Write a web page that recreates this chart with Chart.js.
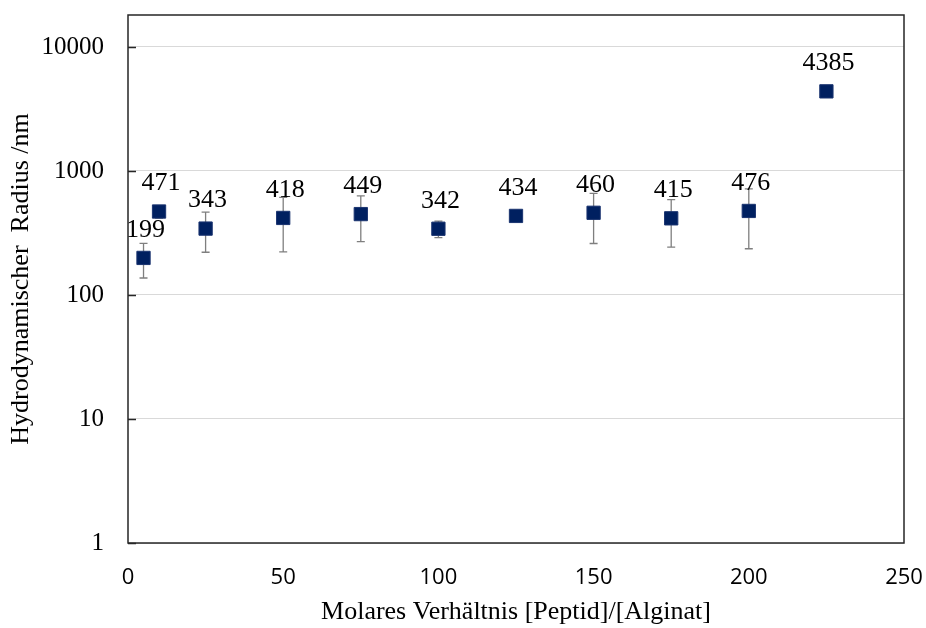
<!DOCTYPE html>
<html>
<head>
<meta charset="utf-8">
<script src="https://cdn.jsdelivr.net/npm/chart.js@4.4.1/dist/chart.umd.min.js"></script>
<style>
  html, body { margin: 0; padding: 0; background: #fff; }
  #wrap { width: 926px; height: 628px; }
</style>
</head>
<body>
<div id="wrap"><canvas id="radius"></canvas></div>
<script>
// molar ratio peptide/alginate, hydrodynamic radius (nm) and its std deviation
var ratios = [5, 10, 25, 50, 75, 100, 125, 150, 175, 200, 225]
var radii = [199, 471, 343, 418, 449, 342, 434, 460, 415, 476, 4385]
var errors = [62, 55, 122, 195, 180, 52, 30, 200, 172, 240, 0]
var yTicks = [1, 10, 100, 1000, 10000]
var xTicks = [0, 50, 100, 150, 200, 250]

var serif = '"Liberation Serif", "Times New Roman", serif'
var sans = '"Open Sans", "Liberation Sans", sans-serif'

var points = ratios.map(function (r, i) { return { x: r, y: radii[i] } })

// vertical error bars with caps, drawn under the markers
var errorBars = {
    id: 'errorBars',
    beforeDatasetsDraw: function (chart) {
        var ctx = chart.ctx, y = chart.scales.y
        var meta = chart.getDatasetMeta(0)
        ctx.save()
        ctx.strokeStyle = '#7f7f7f'
        ctx.lineWidth = 1.3
        meta.data.forEach(function (pt, i) {
            if (!errors[i]) return
            var top = y.getPixelForValue(radii[i] + errors[i])
            var bot = y.getPixelForValue(radii[i] - errors[i])
            ctx.beginPath()
            ctx.moveTo(pt.x, top); ctx.lineTo(pt.x, bot)
            ctx.moveTo(pt.x - 4, top); ctx.lineTo(pt.x + 4, top)
            ctx.moveTo(pt.x - 4, bot); ctx.lineTo(pt.x + 4, bot)
            ctx.stroke()
        })
        ctx.restore()
    }
}

// value labels above each marker, plus frame and inner ticks of the y axis
var decorations = {
    id: 'decorations',
    afterDatasetsDraw: function (chart) {
        var ctx = chart.ctx, a = chart.chartArea, y = chart.scales.y
        var meta = chart.getDatasetMeta(0)
        ctx.save()
        ctx.fillStyle = '#000'
        ctx.font = '26px ' + serif
        ctx.textAlign = 'center'
        ctx.textBaseline = 'middle'
        meta.data.forEach(function (pt, i) {
            ctx.fillText(String(radii[i]), pt.x + 2, pt.y - 28)
        })
        ctx.strokeStyle = '#262626'
        ctx.lineWidth = 1.5
        ctx.strokeRect(a.left, a.top, a.right - a.left, a.bottom - a.top)
        ctx.beginPath()
        yTicks.forEach(function (v) {
            var py = Math.round(y.getPixelForValue(v)) + 0.5
            ctx.moveTo(a.left, py); ctx.lineTo(a.left + 8, py)
        })
        ctx.stroke()
        ctx.restore()
    }
}

function noPad(s) {
    s.paddingTop = 0; s.paddingBottom = 0; s.paddingLeft = 0; s.paddingRight = 0
}

var config = {
    type: 'scatter',
    data: {
        datasets: [{
            label: 'Radius',
            data: points,
            pointStyle: 'rect',
            pointRadius: 9.4,
            pointHoverRadius: 9.4,
            backgroundColor: '#002060',
            borderColor: '#1a3470',
            borderWidth: 1
        }]
    },
    options: {
        responsive: false,
        animation: false,
        layout: { padding: { top: 15, right: 22, left: 0, bottom: 0 } },
        plugins: { legend: { display: false }, tooltip: { enabled: false } },
        scales: {
            x: {
                type: 'linear',
                min: 0,
                max: 250,
                afterBuildTicks: function (s) { s.ticks = xTicks.map(function (v) { return { value: v } }) },
                afterFit: function (s) { s.height = 85; noPad(s) },
                grid: { display: false, drawTicks: false },
                border: { display: false },
                ticks: { padding: 22, color: '#000', font: { family: sans, size: 22 } },
                title: {
                    display: true,
                    text: 'Molares Verhältnis [Peptid]/[Alginat]',
                    color: '#000',
                    padding: { top: 0, bottom: 0 },
                    font: { family: serif, size: 26 }
                }
            },
            y: {
                type: 'logarithmic',
                min: 1,
                max: 18100,
                afterBuildTicks: function (s) { s.ticks = yTicks.map(function (v) { return { value: v } }) },
                afterFit: function (s) { s.width = 128; noPad(s) },
                grid: { color: '#d9d9d9', lineWidth: 1, drawTicks: false },
                border: { display: false },
                ticks: {
                    padding: 24,
                    color: '#000',
                    font: { family: serif, size: 25 },
                    callback: function (v) { return String(v) }
                },
                title: {
                    display: true,
                    text: 'Hydrodynamischer  Radius /nm',
                    color: '#000',
                    padding: { top: 6, bottom: 0 },
                    font: { family: serif, size: 26 }
                }
            }
        }
    },
    plugins: [errorBars, decorations]
}

var canvas = document.getElementById('radius')
canvas.width = 926
canvas.height = 628
var chart = new Chart(canvas, config)
</script>
</body>
</html>
